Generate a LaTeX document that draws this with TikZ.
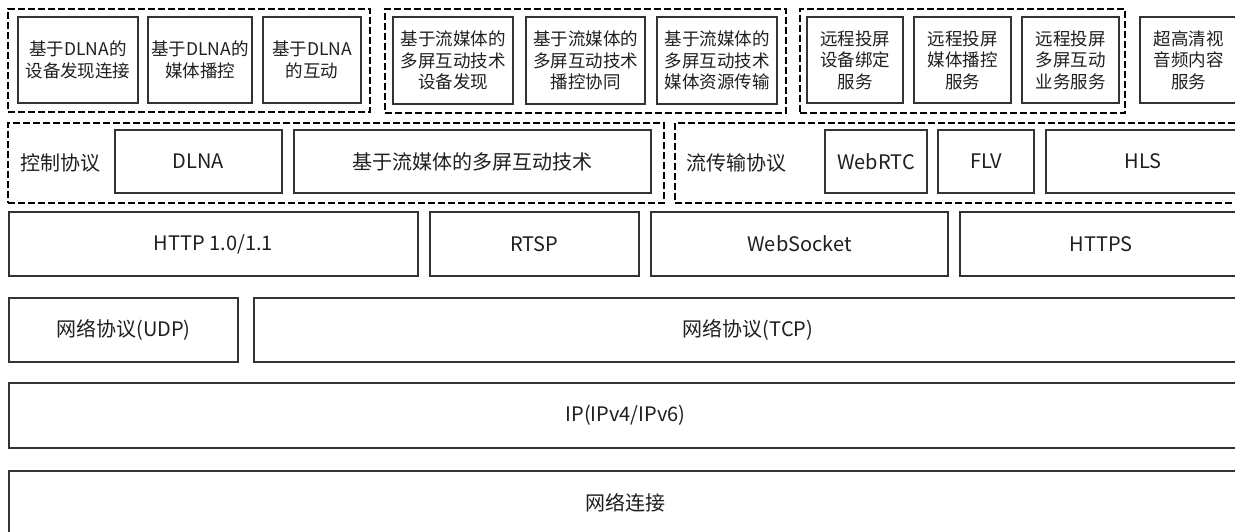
\documentclass[tikz,border=0pt]{standalone}
\usepackage{fontspec}
\setmainfont{Noto Sans CJK SC}
\usepackage{tikz}
\tikzset{box/.style={draw=black!80, line width=1.2pt, fill=white, inner sep=0pt, outer sep=0pt, align=center, text=black!88}}
\tikzset{group/.style={draw=black, line width=2.2pt, dash pattern=on 7pt off 3pt, inner sep=0pt, outer sep=0pt}}
\tikzset{small/.style={font=\fontsize{17.5}{21.5}\selectfont}}
\tikzset{large/.style={font=\fontsize{20}{24}\selectfont}}
\tikzset{sized/.style 2 args={minimum width=#1pt, minimum height=#2pt}}

\begin{document}
\begin{tikzpicture}[x=1pt, y=-1pt]
    \useasboundingbox (0,0) rectangle (1235,531);
    \clip (0,0) rectangle (1235,531);
    % application groups
    \node[group, sized={362}{103}] (gDlna) at (189,60.5) {};
    \node[group, sized={401}{104}] (gStream) at (585.5,61) {};
    \node[group, sized={325}{104}] (gRemote) at (962.5,61) {};
    \node[box, small, sized={120}{86}] (dlnaFind) at (78,60) {基于DLNA的\\设备发现连接};
    \node[box, small, sized={104}{86}] (dlnaPlay) at (200,60) {基于DLNA的\\媒体播控};
    \node[box, small, sized={98}{86}] (dlnaAct) at (312,60) {基于DLNA\\的互动};
    \node[box, small, sized={120}{87}] (strFind) at (453,60.5) {基于流媒体的\\多屏互动技术\\设备发现};
    \node[box, small, sized={119}{87}] (strPlay) at (585.5,60.5) {基于流媒体的\\多屏互动技术\\播控协同};
    \node[box, small, sized={120}{87}] (strMedia) at (717,60.5) {基于流媒体的\\多屏互动技术\\媒体资源传输};
    \node[box, small, sized={96}{86}] (remBind) at (855,60) {远程投屏\\设备绑定\\服务};
    \node[box, small, sized={97}{86}] (remPlay) at (962.5,60) {远程投屏\\媒体播控\\服务};
    \node[box, small, sized={97}{86}] (remMulti) at (1070.5,60) {远程投屏\\多屏互动\\业务服务};
    \node[box, small, sized={97}{86}] (uhdServ) at (1188.5,60) {超高清视\\音频内容\\服务};
    % control and streaming protocols
    \node[group, sized={656}{80}] (gCtrl) at (336,163) {};
    \node[group, sized={570}{80}] (gTrans) at (960,163) {};
    \node[large, text=black!88] (ctrlLbl) at (60,163) {控制协议};
    \node[box, large, sized={167}{63}] (dlna) at (198.5,161.5) {DLNA};
    \node[box, large, sized={357}{63}] (strTech) at (472.5,161.5) {基于流媒体的多屏互动技术};
    \node[large, text=black!88] (transLbl) at (736,163) {流传输协议};
    \node[box, large, sized={102}{63}] (webrtc) at (876,161.5) {WebRTC};
    \node[box, large, sized={96}{63}] (flv) at (986,161.5) {FLV};
    \node[box, large, sized={194}{63}] (hls) at (1143,161.5) {HLS};
    % application layer
    \node[box, large, sized={409}{64}] (http) at (213.5,244) {HTTP 1.0/1.1};
    \node[box, large, sized={209}{64}] (rtsp) at (534.5,244) {RTSP};
    \node[box, large, sized={297}{64}] (websock) at (799.5,244) {WebSocket};
    \node[box, large, sized={282}{64}] (https) at (1101,244) {HTTPS};
    % transport, network, link
    \node[box, large, sized={229}{64}] (udp) at (123.5,330) {网络协议(UDP)};
    \node[box, large, sized={988}{64}] (tcp) at (748,330) {网络协议(TCP)};
    \node[box, large, sized={1233}{65}] (ip) at (625.5,415.5) {IP(IPv4/IPv6)};
    \node[box, large, sized={1233}{64}] (link) at (625.5,503) {网络连接};
\end{tikzpicture}
\end{document}
